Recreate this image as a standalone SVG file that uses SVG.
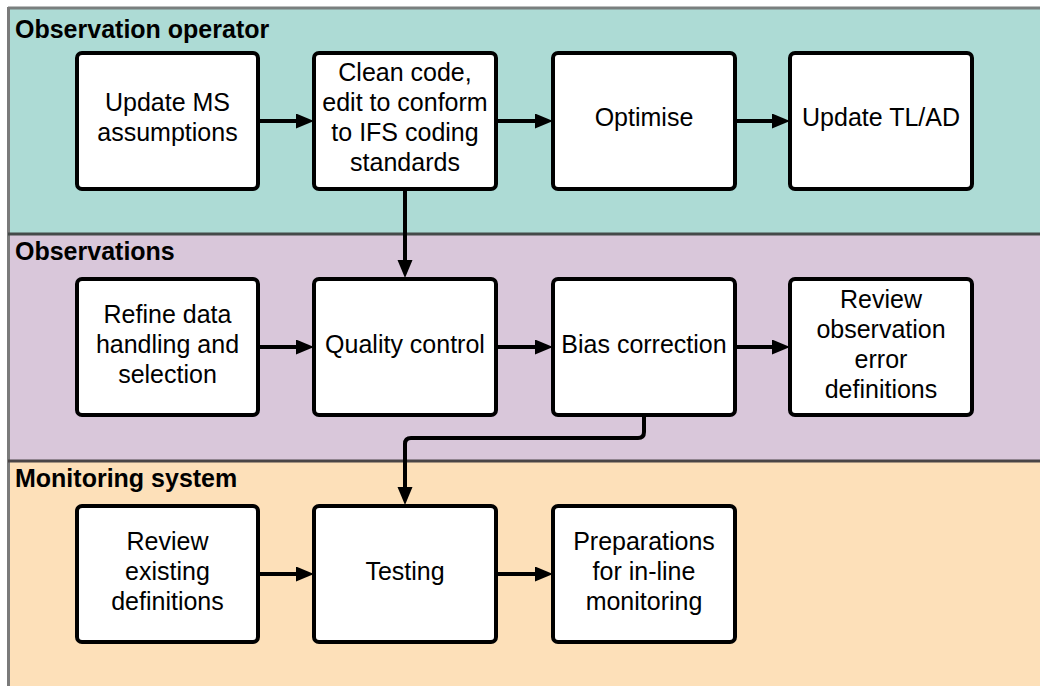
<svg xmlns="http://www.w3.org/2000/svg" width="1040" height="686" viewBox="0 0 1040 686">
<defs>
<marker id="ah" markerUnits="userSpaceOnUse" markerWidth="20" markerHeight="16" refX="4" refY="7.5" orient="auto">
<path d="M0,0 L18,7.5 L0,15 z" fill="#000"/>
</marker>
</defs>
<style>
.box{fill:#fff;stroke:#000;stroke-width:4}
.t{font-family:"Liberation Sans",Arial,sans-serif;font-size:25px;fill:#000;text-anchor:middle}
.lt{font-family:"Liberation Sans",Arial,sans-serif;font-size:25px;font-weight:bold;fill:#000}
.c{fill:none;stroke:#000;stroke-width:4;marker-end:url(#ah)}
</style>
<g id="lanes">
<rect x="8" y="8" width="1040" height="226" fill="#addbd5"/>
<rect x="8" y="234" width="1040" height="227" fill="#d9c7da"/>
<rect x="8" y="461" width="1040" height="230" fill="#fde0b9"/>
<line x1="8" y1="8" x2="1040" y2="8" stroke="#7a7f7e" stroke-width="3"/>
<line x1="8.5" y1="7" x2="8.5" y2="686" stroke="#7a7a7a" stroke-width="3"/>
<line x1="8" y1="234" x2="1040" y2="234" stroke="#454a49" stroke-width="3"/>
<line x1="8" y1="461" x2="1040" y2="461" stroke="#4a4546" stroke-width="3"/>
<text class="lt" x="15" y="38">Observation operator</text>
<text class="lt" x="15" y="260">Observations</text>
<text class="lt" x="15" y="487">Monitoring system</text>
</g>
<g id="n1"><rect class="box" x="77" y="53" width="181" height="136" rx="5"/><text class="t" x="167.5" y="111">Update MS</text><text class="t" x="167.5" y="141">assumptions</text></g>
<g id="n2"><rect class="box" x="314" y="53" width="182" height="136" rx="5"/><text class="t" x="405" y="81">Clean code,</text><text class="t" x="405" y="111">edit to conform</text><text class="t" x="405" y="141">to IFS coding</text><text class="t" x="405" y="171">standards</text></g>
<g id="n3"><rect class="box" x="553" y="53" width="182" height="136" rx="5"/><text class="t" x="644" y="126">Optimise</text></g>
<g id="n4"><rect class="box" x="790" y="53" width="182" height="136" rx="5"/><text class="t" x="881" y="126">Update TL/AD</text></g>
<g id="n5"><rect class="box" x="77" y="279" width="181" height="136" rx="5"/><text class="t" x="167.5" y="323">Refine data</text><text class="t" x="167.5" y="353">handling and</text><text class="t" x="167.5" y="383">selection</text></g>
<g id="n6"><rect class="box" x="314" y="279" width="182" height="136" rx="5"/><text class="t" x="405" y="353">Quality control</text></g>
<g id="n7"><rect class="box" x="553" y="279" width="182" height="136" rx="5"/><text class="t" x="644" y="353">Bias correction</text></g>
<g id="n8"><rect class="box" x="790" y="279" width="182" height="136" rx="5"/><text class="t" x="881" y="308">Review</text><text class="t" x="881" y="338">observation</text><text class="t" x="881" y="368">error</text><text class="t" x="881" y="398">definitions</text></g>
<g id="n9"><rect class="box" x="77" y="506" width="181" height="136" rx="5"/><text class="t" x="167.5" y="550">Review</text><text class="t" x="167.5" y="580">existing</text><text class="t" x="167.5" y="610">definitions</text></g>
<g id="n10"><rect class="box" x="314" y="506" width="182" height="136" rx="5"/><text class="t" x="405" y="580">Testing</text></g>
<g id="n11"><rect class="box" x="553" y="506" width="182" height="136" rx="5"/><text class="t" x="644" y="550">Preparations</text><text class="t" x="644" y="580">for in-line</text><text class="t" x="644" y="610">monitoring</text></g>
<g id="connectors">
<path class="c" d="M260,121 H300"/>
<path class="c" d="M498,121 H539"/>
<path class="c" d="M737,121 H776"/>
<path class="c" d="M405,191 V264"/>
<path class="c" d="M260,347 H300"/>
<path class="c" d="M498,347 H539"/>
<path class="c" d="M737,347 H776"/>
<path class="c" d="M644,417 V432 Q644,438 638,438 H411 Q405,438 405,444 V491"/>
<path class="c" d="M260,574 H300"/>
<path class="c" d="M498,574 H539"/>
</g>
</svg>
